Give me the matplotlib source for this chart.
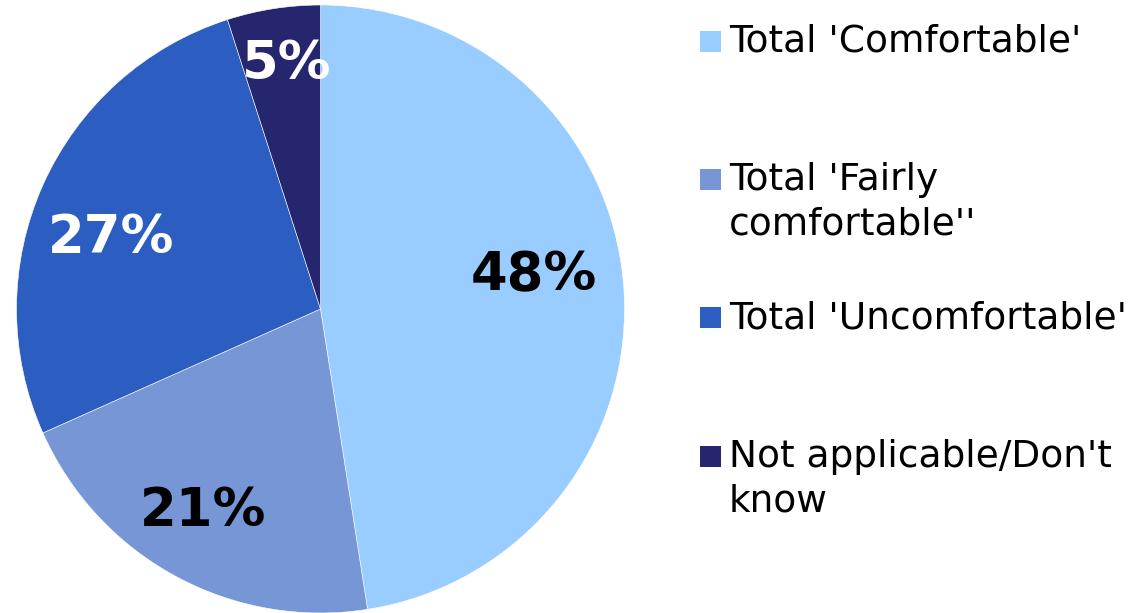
import matplotlib
matplotlib.use("Agg")
import matplotlib.pyplot as plt
from matplotlib.patches import Rectangle

categories = ["Total 'Comfortable'", "Total 'Fairly\ncomfortable''",
              "Total 'Uncomfortable'", "Not applicable/Don't\nknow"]
values = [48, 21, 27, 5]
colors = ["#99CCFF", "#7796D6", "#2C5EC2", "#26266E"]
label_colors = ["black", "black", "white", "white"]

W, H = 1134, 613
fig = plt.figure(figsize=(W / 100, H / 100), dpi=100)
plt.rcParams['font.family'] = ['DejaVu Sans']

cx, cy, r = 320.5, 309, 304
ax = fig.add_axes([(cx - r) / W, (H - cy - r) / H, 2 * r / W, 2 * r / H])
wedges, texts, autotexts = ax.pie(
    values, colors=colors, startangle=90, counterclock=False,
    autopct=lambda p: f"{p:.0f}%", radius=1,
    wedgeprops=dict(edgecolor="white", linewidth=0.4),
    textprops=dict(fontsize=38, fontweight="bold"))
ax.set_xlim(-1, 1)
ax.set_ylim(-1, 1)
ax.set_aspect("equal")
ax.axis("off")

label_pos = [(0.703, 0.111), (-0.385, -0.666), (-0.690, 0.233), (-0.113, 0.805)]
for t, c, pos in zip(autotexts, label_colors, label_pos):
    t.set_color(c)
    t.set_position(pos)
    t.set_ha("center")
    t.set_va("center")

# legend (manual layout)
marker_tops = [31, 169, 307, 446]
for lab, col, top in zip(categories, colors, marker_tops):
    fig.patches.append(Rectangle((700 / W, 1 - (top + 21) / H), 21 / W, 21 / H,
                                 transform=fig.transFigure, facecolor=col,
                                 edgecolor="none"))
    fig.text(729 / W, 1 - (top - 7) / H, lab, fontsize=27, va="top", ha="left",
             linespacing=1.3, color="black")

fig.savefig("out.png", dpi=100)
